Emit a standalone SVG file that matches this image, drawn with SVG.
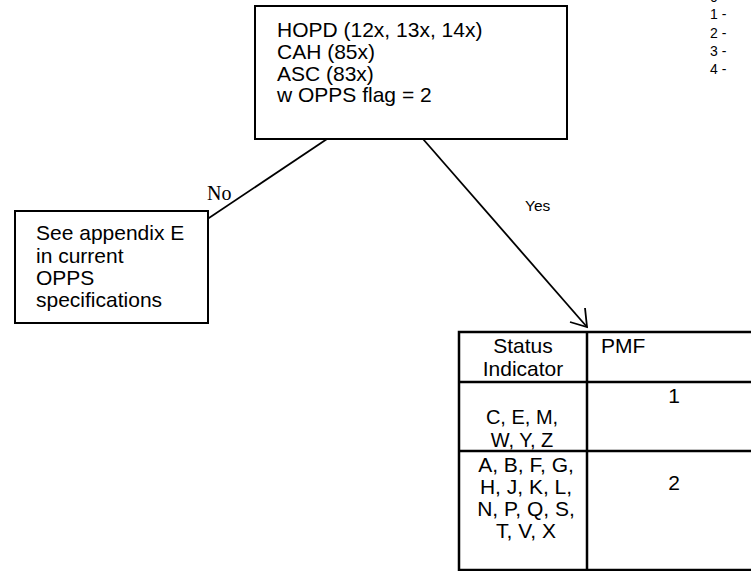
<svg xmlns="http://www.w3.org/2000/svg" width="751" height="571" viewBox="0 0 751 571">
<style>
.t{font-family:"Liberation Sans",Arial,sans-serif;font-size:21px;fill:#000}
.s{font-family:"Liberation Sans",Arial,sans-serif;font-size:14px;fill:#000}
.box{fill:#fff;stroke:#000;stroke-width:2}
.tb{fill:none;stroke:#000;stroke-width:2.5}
.ln{fill:none;stroke:#000;stroke-width:1.8}
.m{text-anchor:middle}
</style>
<rect width="751" height="571" fill="#fff"/>
<g id="legend">
<text class="s" x="710" y="1.5">0 -</text>
<text class="s" x="710" y="19">1 -</text>
<text class="s" x="710" y="37.5">2 -</text>
<text class="s" x="710" y="56">3 -</text>
<text class="s" x="710" y="74">4 -</text>
</g>
<g id="connectors">
<path class="ln" d="M327 139 L188 232"/>
<path class="ln" d="M197.5 215 L188 232 L207 231"/>
<path class="ln" d="M423 139 L587 327"/>
<path class="ln" d="M570 322 L587 327 L585 308"/>
<text x="207" y="200" style="font-family:'Liberation Serif','Times New Roman',serif;font-size:20px">No</text>
<text x="525" y="211" style="font-family:'Liberation Sans',Arial,sans-serif;font-size:15.5px">Yes</text>
</g>
<g id="start">
<rect class="box" x="255" y="6" width="312" height="133"/>
<text class="t" x="277" y="37">HOPD (12x, 13x, 14x)</text>
<text class="t" x="277" y="59">CAH (85x)</text>
<text class="t" x="277" y="81">ASC (83x)</text>
<text class="t" x="277" y="102">w OPPS flag = 2</text>
</g>
<g id="no-node">
<rect class="box" x="15" y="211" width="193" height="112"/>
<text class="t" x="36" y="240">See appendix E</text>
<text class="t" x="36" y="262.5">in current</text>
<text class="t" x="36" y="285">OPPS</text>
<text class="t" x="36" y="307">specifications</text>
</g>
<g id="yes-table">
<rect class="tb" x="459" y="332" width="302" height="238"/>
<path class="tb" d="M587 332 V570 M459 382 H761 M459 451 H761"/>
<text class="t m" x="523" y="353">Status</text>
<text class="t m" x="523" y="376">Indicator</text>
<text class="t" x="601" y="353">PMF</text>
<text class="t m" x="674" y="403">1</text>
<text class="t m" x="522" y="424" style="font-size:20px">C, E, M,</text>
<text class="t m" x="522" y="447" style="font-size:20px">W, Y, Z</text>
<text class="t m" x="674" y="490">2</text>
<text class="t m" x="526" y="472">A, B, F, G,</text>
<text class="t m" x="526" y="494">H, J, K, L,</text>
<text class="t m" x="526" y="516">N, P, Q, S,</text>
<text class="t m" x="526" y="538">T, V, X</text>
</g>
</svg>
